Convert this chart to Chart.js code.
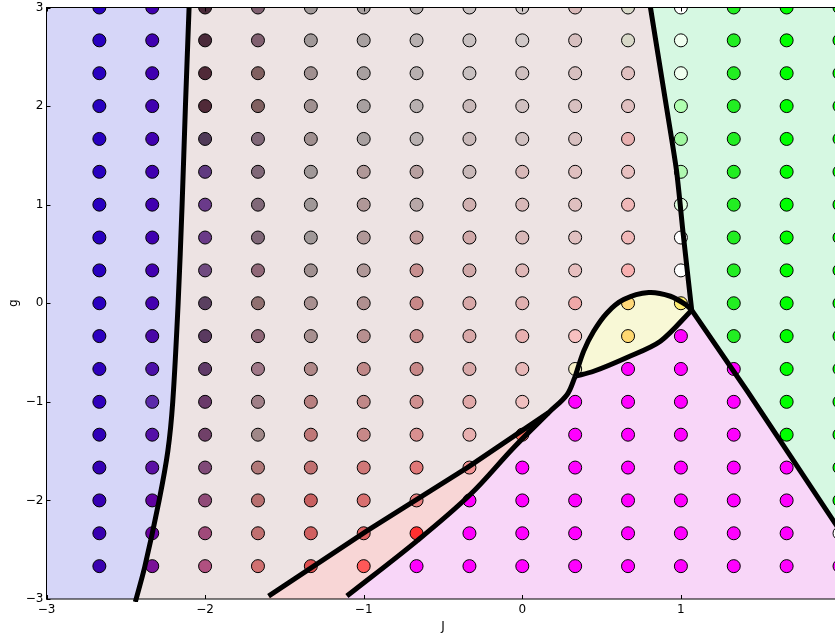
<!DOCTYPE html>
<html>
<head>
<meta charset="utf-8">
<script src="https://cdn.jsdelivr.net/npm/chart.js@4.4.0/dist/chart.umd.min.js"></script>
<style>
  html, body { margin: 0; padding: 0; background: #fff; overflow: hidden; }
  #wrap { width: 850px; height: 637px; }
</style>
</head>
<body>
<div id="wrap"><canvas id="phase" width="850" height="637"></canvas></div>
<script>
// Sample grid: coupling J (columns) and field g (rows, top to bottom)
const jValues = [-2.6667, -2.3333, -2, -1.6667, -1.3333, -1, -0.6667, -0.3333, 0, 0.3333, 0.6667, 1, 1.3333, 1.6667, 2];
const gValues = [3, 2.6667, 2.3333, 2, 1.6667, 1.3333, 1, 0.6667, 0.3333, 0, -0.3333, -0.6667, -1, -1.3333, -1.6667, -2, -2.3333, -2.6667];

// Marker colour of every sample, one row per g value, one entry per J value
const M = '#ff00ff', G = '#00ff00', G2 = '#22ee22';
const colorRows = [
  ['#2800c0','#4000b0','#4a2a3a','#806070','#a09898','#a8a0a0','#b8b0b0','#c8c0c0','#d0c8c8','#d8b8b8','#d8d8c8','#ffffff',G2,G,G],
  ['#2800c0','#4000b0','#4a2a3a','#806070','#a09898','#a8a0a0','#b8b0b0','#c8c0c0','#d0c8c8','#d8c0c0','#d8d8c8','#f0fff0',G2,G,G],
  ['#2800c0','#4000b0','#502a38','#806060','#a09090','#a8a0a0','#b8b0b0','#c8c0c0','#d0c0c0','#d8c0c0','#e0c0c0','#f0fff0',G2,G,G],
  ['#2800c0','#4000b0','#502a38','#806060','#a09090','#a8a0a0','#b8b0b0','#c8b8b8','#d0c0c0','#d8c0c0','#e0c0c0','#b0ffb0',G2,G,G],
  ['#2800c0','#4000b0','#503a58','#806878','#a09090','#a8a0a0','#b8b0b0','#c8b8b8','#d0c0c0','#d8c0c0','#e8b0b0','#a0f8a0',G2,G,G],
  ['#2800c0','#4000b0','#603a80','#806878','#a09898','#b09898','#b8a0a0','#c8b8b8','#d8b8b8','#e0c0c0','#e8c0c0','#b0f8b0',G2,G,G],
  ['#2800c0','#4000b0','#6a3a8a','#806878','#a09898','#b09898','#b8a8a8','#d0b0b0','#d8b8b8','#e0c0c0','#f0b8b8','#e0ffe0',G2,G,G],
  ['#2800c0','#4000b0','#6a3a88','#806878','#a09898','#b09898','#c09898','#d0a8a8','#d8b8b8','#e0c0c0','#f0b8b8','#ffffff',G2,G,G],
  ['#2800c0','#4200b0','#704a80','#906878','#a09090','#b09898','#c89090','#d0a8a8','#e0b8b8','#e8c0c0','#f8b0b0','#ffffff',G2,G,G],
  ['#2a00c0','#4400b0','#5a4060','#907070','#a89090','#b09090','#c88888','#d8a8a8','#e0b0b0','#f0a8a8','#ffd878','#ffee70',G2,G,G],
  ['#2c00c0','#4a08a8','#5a3a60','#906878','#a89090','#b89090','#c88888','#d8a8a8','#e8b0b0','#f8c0c0','#ffd870',M,G2,G,G],
  ['#2e00bc','#4c10a8','#603a68','#a07888','#b08888','#c08888','#c88888','#d8a8a8','#e8b8b8','#f8f0c8',M,M,M,G,G],
  ['#3000bc','#5a2aaa','#6a3a6a','#a08088','#b88080','#c08888','#d09090','#e0a8a8','#f0c0c0',M,M,M,M,G,G],
  ['#3000b8','#5410a8','#704068','#a08888','#c07878','#c88888','#d89090','#e8b0b0','#ff7060',M,M,M,M,G,G],
  ['#3400b4','#5a10a4','#804a78','#b07878','#c07070','#d07878','#e07878','#f09090',M,M,M,M,M,M,G],
  ['#3600b4','#6000a0','#904a78','#b87070','#c86060','#d87070','#e88080',M,M,M,M,M,M,M,G],
  ['#3800b0','#6a00a0','#a04a7a','#c07070','#d06060','#e06060','#ff3030',M,M,M,M,M,M,M,'#ffffff'],
  ['#3a00b0','#7a1098','#b05080','#d07070','#e05050','#ff5858',M,M,M,M,M,M,M,M,M]
];

// Phase boundaries as [J, g] pairs
const edgeLeft   = [[-2.101, 3], [-2.124, 2], [-2.145, 1], [-2.17, 0], [-2.204, -1], [-2.235, -1.5], [-2.29, -2], [-2.38, -2.67], [-2.44, -3.03]];
const edgeRight  = [[0.808, 3], [0.902, 2.06], [0.972, 1.35], [1.014, 0.71], [1.068, -0.07]];
const edgeDiag   = [[1.068, -0.07], [1.418, -0.89], [2.0, -2.30]];
const bubbleTop  = [[0.334, -0.74], [0.387, -0.486], [0.45, -0.284], [0.534, -0.098], [0.639, 0.037], [0.797, 0.108], [0.934, 0.071], [1.029, -0.013], [1.068, -0.07]];
const bubbleBase = [[0.334, -0.74], [0.45, -0.69], [0.66, -0.55], [0.871, -0.385], [1.068, -0.07]];
const edgeLower  = [[0.334, -0.74], [0.283, -0.925], [0.166, -1.11], [-0.055, -1.465], [-0.328, -1.94], [-0.664, -2.41], [-1.106, -2.97]];
const edgeUpper  = [[0.166, -1.11], [-0.349, -1.67], [-0.98, -2.31], [-1.60, -2.97]];

// Axis ticks
const jTicks = [-3, -2, -1, 0, 1, 2];
const gTicks = [-3, -2, -1, 0, 1, 2, 3];

// Region fills
const fillBase    = '#ede3e3';
const fillBlue    = '#d6d6f8';
const fillGreen   = '#d6f8e2';
const fillYellow  = '#f8f8d6';
const fillMagenta = '#f8d6f8';
const fillRed     = '#f8d6d6';

const regions = [
  { color: fillBlue,    pts: [[-3.3, 3.3], ...edgeLeft, [-3.3, -3.3]] },
  { color: fillGreen,   pts: [[0.808, 3.3], ...edgeRight, ...edgeDiag, [2.3, -2.9], [2.3, 3.3]] },
  { color: fillMagenta, pts: [...bubbleBase, ...edgeDiag.slice(1), [2.3, -2.9], [2.3, -3.3], [-1.13, -3.3], ...edgeLower.slice().reverse()] },
  { color: fillYellow,  pts: [...bubbleTop, ...bubbleBase.slice().reverse()] },
  { color: fillRed,     pts: [...edgeUpper, [-1.63, -3.3], [-1.13, -3.3], ...edgeLower.slice(2).reverse()] }
];

const toXY = arr => arr.map(p => ({ x: p[0], y: p[1] }));

const samplePoints = [];
const sampleColors = [];
gValues.forEach((g, r) => {
  jValues.forEach((j, c) => {
    samplePoints.push({ x: j, y: g });
    sampleColors.push(colorRows[r][c]);
  });
});

function boundary(points, tension, clip) {
  return {
    data: toXY(points),
    showLine: true,
    borderColor: '#000',
    borderWidth: 5,
    borderJoinStyle: 'round',
    borderCapStyle: 'butt',
    pointRadius: 0,
    pointHoverRadius: 0,
    tension: tension,
    order: 0,
    clip: clip === undefined ? 0 : clip
  };
}

const minus = v => (v < 0 ? '\u2212' + Math.abs(v) : String(v));

// Shaded phases beneath the data, plus frame and inward tick marks on top
const phasePlugin = {
  id: 'phases',
  beforeDatasetsDraw(chart) {
    const { ctx, chartArea: a, scales: { x, y } } = chart;
    ctx.save();
    ctx.beginPath();
    ctx.rect(a.left, a.top, a.right - a.left, a.bottom - a.top);
    ctx.clip();
    ctx.fillStyle = fillBase;
    ctx.fillRect(a.left, a.top, a.right - a.left, a.bottom - a.top);
    regions.forEach(reg => {
      ctx.beginPath();
      reg.pts.forEach((p, k) => {
        const px = x.getPixelForValue(p[0]);
        const py = y.getPixelForValue(p[1]);
        if (k === 0) ctx.moveTo(px, py); else ctx.lineTo(px, py);
      });
      ctx.closePath();
      ctx.fillStyle = reg.color;
      ctx.fill();
    });
    ctx.restore();
  },
  afterDatasetsDraw(chart) {
    const { ctx, chartArea: a, scales: { x, y } } = chart;
    ctx.save();
    ctx.strokeStyle = '#000';
    ctx.lineWidth = 1;
    ctx.strokeRect(a.left, a.top, a.right - a.left, a.bottom - a.top);
    const len = 4;
    ctx.beginPath();
    jTicks.forEach(v => {
      const px = Math.round(x.getPixelForValue(v)) + 0.5;
      ctx.moveTo(px, a.bottom); ctx.lineTo(px, a.bottom - len);
      ctx.moveTo(px, a.top); ctx.lineTo(px, a.top + len);
    });
    gTicks.forEach(v => {
      const py = Math.round(y.getPixelForValue(v)) + 0.5;
      ctx.moveTo(a.left, py); ctx.lineTo(a.left + len, py);
      ctx.moveTo(a.right, py); ctx.lineTo(a.right - len, py);
    });
    ctx.stroke();
    ctx.restore();
  }
};

const font = { family: 'DejaVu Sans', size: 12 };

new Chart(document.getElementById('phase'), {
  type: 'scatter',
  data: {
    datasets: [
      boundary(edgeLeft, 0.3, { left: 0, top: 0, right: 0, bottom: 3 }),
      boundary(edgeRight, 0.2),
      boundary(edgeDiag, 0),
      boundary(bubbleTop, 0.3),
      boundary(bubbleBase, 0.3),
      boundary(edgeLower, 0.35),
      boundary(edgeUpper, 0),
      {
        data: samplePoints,
        pointBackgroundColor: sampleColors,
        pointBorderColor: '#000',
        pointBorderWidth: 1,
        pointRadius: 6.5,
        pointHoverRadius: 6.5,
        showLine: false,
        order: 1,
        clip: 0
      }
    ]
  },
  options: {
    responsive: false,
    animation: false,
    devicePixelRatio: 1,
    events: [],
    layout: { padding: { top: 6.5, right: 10.5, left: 0, bottom: 0 } },
    plugins: { legend: { display: false }, tooltip: { enabled: false } },
    scales: {
      x: {
        type: 'linear', min: -3, max: 2,
        afterBuildTicks: s => { s.ticks = jTicks.map(v => ({ value: v })); },
        afterFit: s => { s.height = 38; s.paddingLeft = 0; s.paddingRight = 0; },
        grid: { display: false, drawTicks: false },
        border: { display: false },
        ticks: { padding: 4, color: '#000', font, maxRotation: 0, autoSkip: false, callback: minus },
        title: { display: true, text: 'J', color: '#000', font, padding: { top: 0, bottom: 3 } }
      },
      y: {
        type: 'linear', min: -3, max: 3,
        afterBuildTicks: s => { s.ticks = gTicks.map(v => ({ value: v })); },
        afterFit: s => { s.width = 46.5; s.paddingTop = 0; s.paddingBottom = 0; },
        grid: { display: false, drawTicks: false },
        border: { display: false },
        ticks: { padding: 3, color: '#000', font, autoSkip: false, callback: minus },
        title: { display: true, text: 'g', color: '#000', font, padding: { top: 7, bottom: 0 } }
      }
    }
  },
  plugins: [phasePlugin]
});
</script>
</body>
</html>
